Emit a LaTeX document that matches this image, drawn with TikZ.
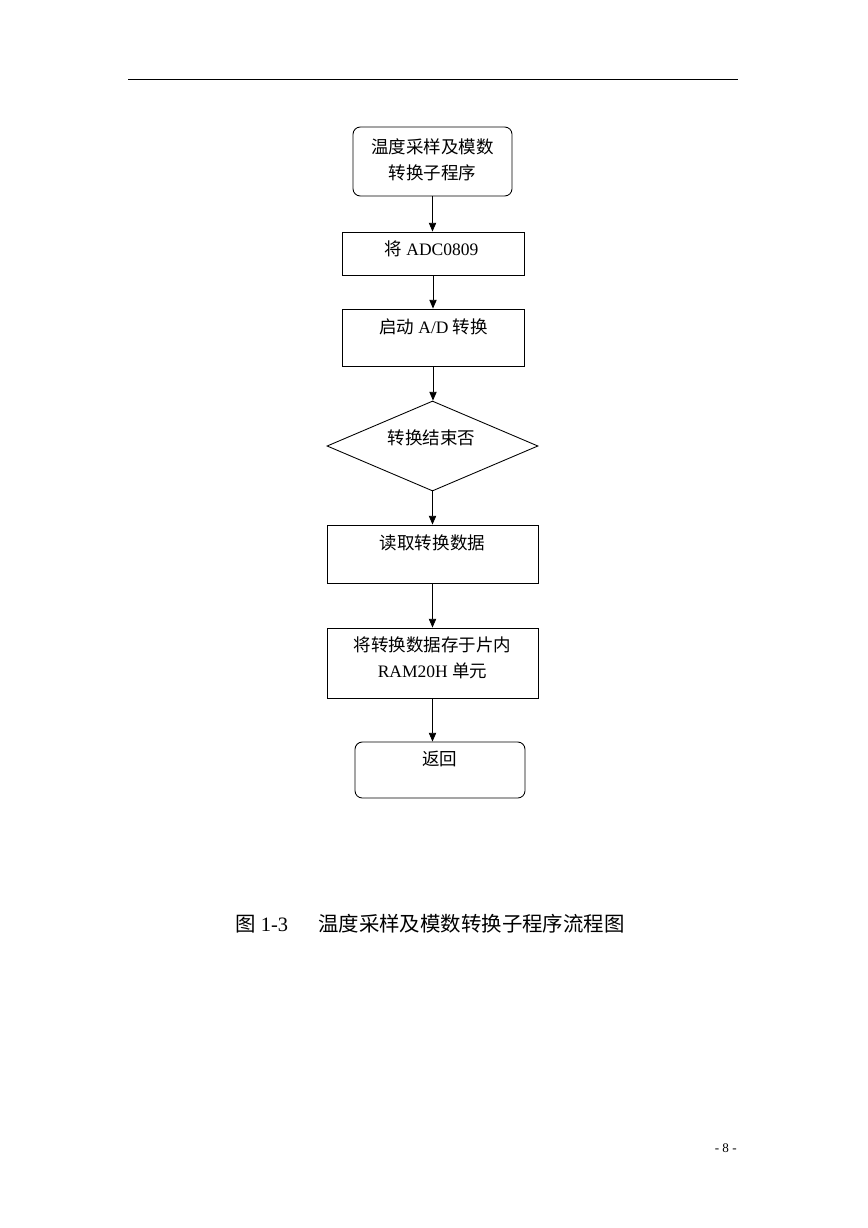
\documentclass[tikz,border=0pt]{standalone}
\usepackage{fontspec}
\setmainfont{Liberation Serif}
\newfontfamily\cjk{Noto Sans CJK SC}
\usetikzlibrary{shapes.geometric,arrows.meta,fit}
\newcommand{\zh}[1]{{\cjk #1}}
\begin{document}
\begin{tikzpicture}[x=0.6855pt,y=-0.6855pt,
  box/.style={draw, line width=0.6pt, inner sep=0pt},
  rbox/.style={box, rounded corners=5pt},
  lbl/.style={inner sep=0pt, font=\fontsize{12}{17.8}\selectfont, align=center},
  arr/.style={-{Triangle[length=6pt,width=5pt]}, line width=0.6pt},
]
\useasboundingbox (0,0) rectangle (868,1228);
\draw[line width=0.5pt] (128,79) -- (738,79);

\node[rbox, fit={(353,127) (512,196)}] (s) {};
\node[box, fit={(342,232) (524,275)}] (b1) {};
\node[box, fit={(342,309) (524,366)}] (b2) {};
\node[box, diamond, minimum width={211*0.6855pt}, minimum height={90*0.6855pt}] (d) at (432.5,446) {};
\node[box, fit={(327,525) (538,583)}] (b3) {};
\node[box, fit={(327,628) (538,698)}] (b4) {};
\node[rbox, fit={(355,742) (525,798)}] (e) {};

\draw[arr] (s.south) -- (s.south |- b1.north);
\draw[arr] (b1.south) -- (b1.south |- b2.north);
\draw[arr] (b2.south) -- (b2.south |- d.north);
\draw[arr] (d.south) -- (d.south |- b3.north);
\draw[arr] (b3.south) -- (b3.south |- b4.north);
\draw[arr] (b4.south) -- (b4.south |- e.north);

\node[lbl] (t0) at (432.5,159.5) {\zh{温度采样及模数}\\\zh{转换子程序}};
\node[lbl] (t1) at (431.5,248.5) {\zh{将} ADC0809};
\node[lbl] (t2) at (433.5,326.5) {\zh{启动} A/D \zh{转换}};
\node[lbl] (t3) at (431.5,437.5) {\zh{转换结束否}};
\node[lbl] (t4) at (432.5,542.5) {\zh{读取转换数据}};
\node[lbl] (t5) at (432.5,658) {\zh{将转换数据存于片内}\\RAM20H \zh{单元}};
\node[lbl] (t6) at (439.5,759) {\zh{返回}};

\node[anchor=west, inner sep=0pt, font=\fontsize{14}{16}\selectfont] (c1) at (235,924) {\zh{图} 1-3};
\node[anchor=west, inner sep=0pt, font=\fontsize{14}{16}\selectfont] (c2) at (318,924) {\zh{温度采样及模数转换子程序流程图}};

\node[anchor=east, inner sep=0pt, font=\fontsize{9}{10}\selectfont] (pg) at (737,1148) {- 8 -};
\end{tikzpicture}
\end{document}
